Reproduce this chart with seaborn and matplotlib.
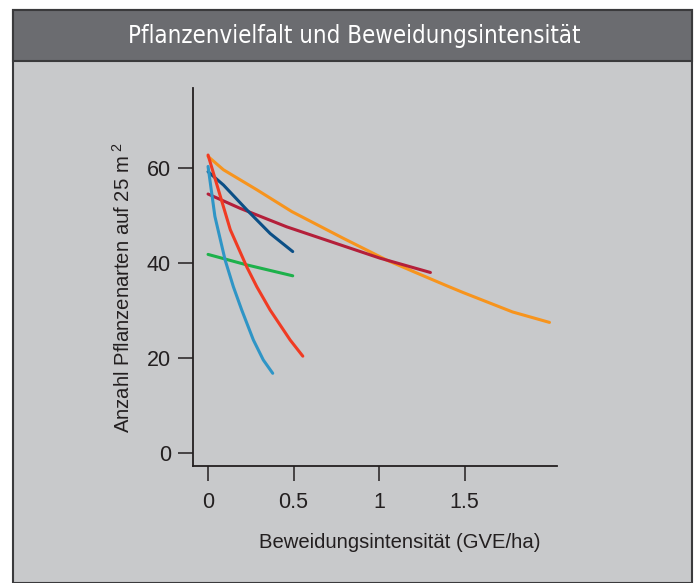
import pandas as pd
import matplotlib.pyplot as plt
from matplotlib.patches import Rectangle
import seaborn as sns

# values
orange_x = [0.0, 0.09, 0.285, 0.49, 0.79, 1.045, 1.2, 1.396, 1.49, 1.78, 1.996]
orange_y = [62.4, 59.6, 55.4, 50.8, 45.2, 40.6, 38.2, 35.2, 33.8, 29.7, 27.5]

crimson_x = [0.0, 0.187, 0.46, 1.006, 1.30]
crimson_y = [54.5, 51.5, 47.6, 41.0, 38.0]

darkblue_x = [0.0, 0.09, 0.226, 0.363, 0.495]
darkblue_y = [59.2, 56.4, 51.2, 46.2, 42.4]

green_x = [0.0, 0.226, 0.495]
green_y = [41.8, 39.6, 37.3]

red_x = [0.0, 0.13, 0.226, 0.285, 0.363, 0.48, 0.554]
red_y = [62.7, 47.0, 39.2, 35.0, 30.1, 23.8, 20.4]

lightblue_x = [0.0, 0.04, 0.1, 0.148, 0.197, 0.265, 0.323, 0.378]
lightblue_y = [60.3, 49.8, 40.6, 35.0, 30.1, 23.8, 19.6, 16.8]

x_ticks = [0, 0.5, 1, 1.5]
x_ticklabels = ['0', '0.5', '1', '1.5']
y_ticks = [0, 20, 40, 60]

title = 'Pflanzenvielfalt und Beweidungsintensität'
x_label = 'Beweidungsintensität (GVE/ha)'
y_label = 'Anzahl Pflanzenarten auf 25 m$^{\\ 2}$'

series = {
    'orange': (orange_x, orange_y, '#f7941d'),
    'crimson': (crimson_x, crimson_y, '#b41f3a'),
    'darkblue': (darkblue_x, darkblue_y, '#0b4f86'),
    'green': (green_x, green_y, '#1db14b'),
    'red': (red_x, red_y, '#f03b23'),
    'lightblue': (lightblue_x, lightblue_y, '#2f95c6'),
}

frames = []
for name, (xs, ys, _) in series.items():
    frames.append(pd.DataFrame({'x': xs, 'y': ys, 'series': name}))
df = pd.concat(frames, ignore_index=True)
palette = {name: c for name, (_, _, c) in series.items()}

BG = '#c8c9cb'
BAR = '#6b6c70'
INK = '#231f20'

sns.set_style('ticks', {'axes.facecolor': BG, 'axes.edgecolor': INK})
plt.rcParams['font.family'] = ['Liberation Sans', 'DejaVu Sans']
plt.rcParams['mathtext.fontset'] = 'custom'
plt.rcParams['mathtext.rm'] = 'Liberation Sans'

fig = plt.figure(figsize=(7, 5.83), dpi=100)
fig.patch.set_facecolor('white')

# panel background and title bar
fig.patches.append(Rectangle((13 / 700, 0), 679 / 700, 1 - 10 / 583,
                             transform=fig.transFigure, facecolor=BG,
                             edgecolor='#3a3a3c', linewidth=1.5, zorder=-2))
fig.patches.append(Rectangle((13 / 700, 1 - 61 / 583), 679 / 700, 51 / 583,
                             transform=fig.transFigure, facecolor=BAR,
                             edgecolor='#3a3a3c', linewidth=1.5, zorder=-1))
fig.text(354 / 700, 1 - 36 / 583, title, color='white', fontsize=17.2,
         ha='center', va='center', family='DejaVu Sans', fontstretch='condensed')

ax = fig.add_axes([193 / 700, 1 - 466 / 583, 364 / 700, 378 / 583])
sns.lineplot(data=df, x='x', y='y', hue='series', palette=palette,
             sort=False, estimator=None, linewidth=2.2, legend=False, ax=ax)

ax.set_xlim(-0.088, 2.04)
ax.set_ylim(-2.7, 76.8)
ax.set_xticks(x_ticks)
ax.set_xticklabels(x_ticklabels)
ax.set_yticks(y_ticks)
ax.tick_params(length=11, width=1.1, color=INK, labelcolor=INK, labelsize=15.5)
ax.tick_params(axis='x', pad=8)
ax.tick_params(axis='y', pad=5)
for s in ['left', 'bottom']:
    ax.spines[s].set_linewidth(1.3)
sns.despine(ax=ax)
ax.set_xlabel(x_label, fontsize=14.6, color=INK, va='center')
ax.set_ylabel(y_label, fontsize=14.6, color=INK, va='center')
ax.xaxis.set_label_coords((400 - 193) / 364, (466 - 543) / 378)
ax.yaxis.set_label_coords((123 - 193) / 364, (466 - 288) / 378)
ax.set_facecolor(BG)

fig.savefig('out.png', dpi=100, facecolor='white')
